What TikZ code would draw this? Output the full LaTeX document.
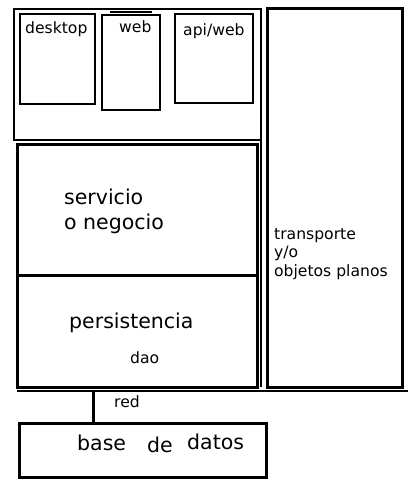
\documentclass[tikz,border=0pt]{standalone}
\usepackage{fontspec}
\setmainfont{DejaVu Sans}
\tikzset{
  layerbox/.style={draw, line width=3pt, inner sep=0pt, outer sep=0pt},
  clientbox/.style={draw, line width=2.2pt, inner sep=0pt, outer sep=0pt},
  smalltext/.style={anchor=base west, inner sep=0pt, font=\fontsize{15.6}{18.5}\selectfont, align=left},
  bigtext/.style={anchor=base west, inner sep=0pt, font=\fontsize{20.5}{25}\selectfont, align=left}
}
\begin{document}
\begin{tikzpicture}[x=1pt,y=1pt,yscale=-1,xscale=1]
\useasboundingbox (0,0) rectangle (408,496);

%Client layer
\node [clientbox, minimum width=247, minimum height=131] (client) at (137.5,74.5) {};
\node [clientbox, minimum width=75, minimum height=90] (desktop) at (57.5,59) {};
\node [clientbox, minimum width=58, minimum height=95] (web) at (131,62.5) {};
\node [clientbox, minimum width=78, minimum height=89] (apiweb) at (214,58.5) {};
\draw [line width=1.2pt] (110,12) -- (152,12);

%Service and persistence layers
\node [layerbox, minimum width=240.5, minimum height=131] (servicio) at (137.25,209.5) {};
\node [layerbox, minimum width=240.5, minimum height=112] (persist) at (137.25,331) {};

%Transport column
\node [layerbox, minimum width=135, minimum height=379] (transporte) at (334.5,197.5) {};
\draw [line width=1.4pt] (client.north east) -- (client.east |- persist.south);

%Base line and network link
\coordinate (baseleft) at (17,390.5);
\coordinate (baseright) at (408,390.5);
\draw [line width=2pt] (baseleft) -- (baseright);
\node [layerbox, minimum width=247, minimum height=54] (db) at (142.5,450) {};
\coordinate (redtop) at (93,390.5);
\draw [line width=3pt] (redtop) -- (redtop |- db.north);

% Text Node
\node [smalltext] (tdesktop) at (25,33) {desktop};
% Text Node
\node [smalltext] (tweb) at (119,32) {web};
% Text Node
\node [smalltext] (tapiweb) at (183,35) {api/web};
% Text Node
\node [bigtext] (tservicio) at (64,229) {servicio\\o negocio};
% Text Node
\node [smalltext] (ttransporte) at (274,276) {transporte\\y/o\\objetos planos};
% Text Node
\node [bigtext] (tpersist) at (69,328) {persistencia};
% Text Node
\node [smalltext] (tdao) at (130,363) {dao};
% Text Node
\node [smalltext] (tred) at (114,407) {red};
% Text Node
\node [bigtext] (tbase) at (77,450) {base};
% Text Node
\node [bigtext] (tde) at (147,452.5) {de};
% Text Node
\node [bigtext] (tdatos) at (187,449) {datos};

\end{tikzpicture}
\end{document}
